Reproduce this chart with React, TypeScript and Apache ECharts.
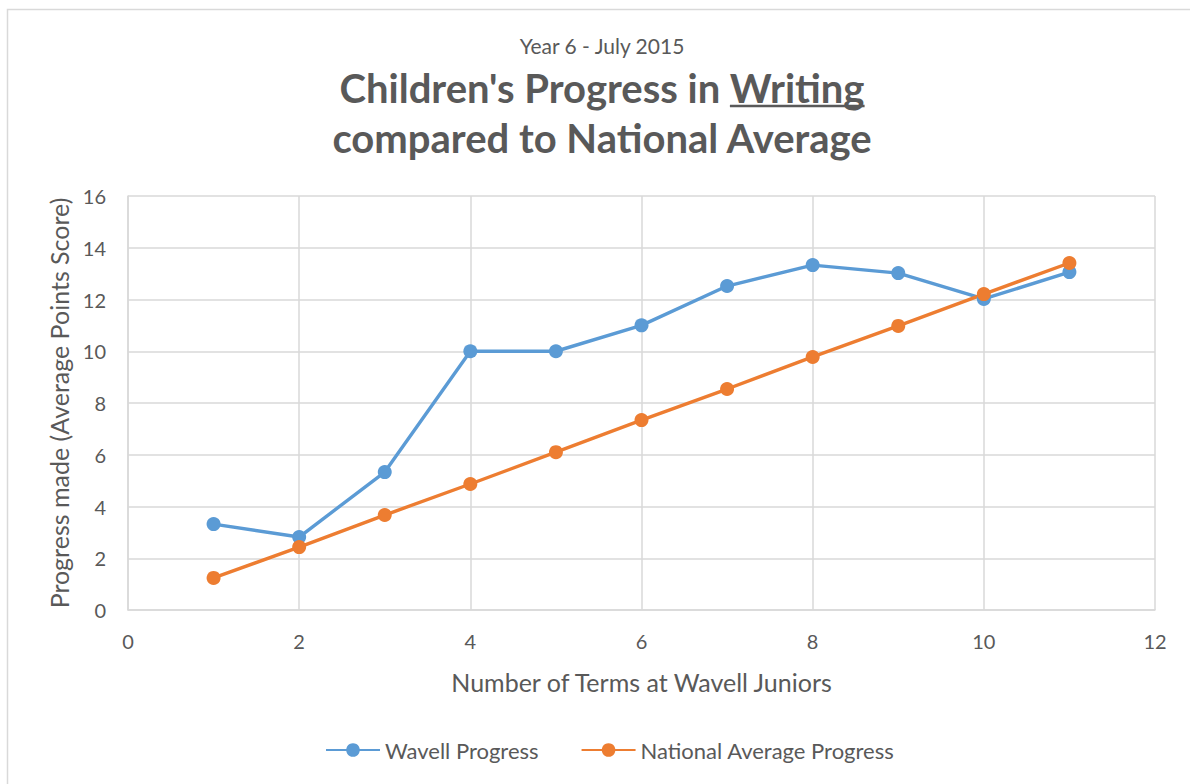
import React, { useEffect, useRef } from "react";
import * as echarts from "echarts";

const terms = [1, 2, 3, 4, 5, 6, 7, 8, 9, 10, 11];
const wavellProgress = [3.32, 2.82, 5.33, 10.0, 10.0, 11.0, 12.52, 13.33, 13.02, 12.02, 13.06];
const nationalProgress = [1.24, 2.43, 3.67, 4.87, 6.1, 7.34, 8.54, 9.78, 10.98, 12.21, 13.41];

const seriesNames = ["Wavell Progress", "National Average Progress"];
const subtitle = "Year 6 - July 2015";
const titleLine1Prefix = "Children's Progress in ";
const titleLine1Underlined = "Writing";
const titleLine2 = "compared to National Average";
const xAxisName = "Number of Terms at Wavell Juniors";
const yAxisName = "Progress made (Average Points Score)";

const FONT = "Lato, 'Open Sans', sans-serif";
const TEXT = "#595959";

function measure(text: string, font: string): number {
  const c = document.createElement("canvas");
  const ctx = c.getContext("2d");
  if (!ctx) return text.length * 20;
  ctx.font = font;
  return ctx.measureText(text).width;
}

export default function App() {
  const ref = useRef<HTMLDivElement>(null);
  useEffect(() => {
    document.body.style.margin = "0";
    if (!ref.current) return;
    const chart = echarts.init(ref.current, undefined, { renderer: "svg" });
    const titleFont = `bold 40px Lato`;
    const centerX = 602;
    const fullW = measure(titleLine1Prefix + titleLine1Underlined, titleFont);
    const uW = measure(titleLine1Underlined, titleFont);
    const uEnd = centerX + fullW / 2;
    const uStart = uEnd - uW;

    chart.setOption({
      animation: false,
      textStyle: { fontFamily: FONT, color: TEXT },
      grid: { left: 128, right: 35, top: 196, bottom: 174 },
      xAxis: {
        type: "value",
        min: 0,
        max: 12,
        interval: 2,
        name: xAxisName,
        nameLocation: "middle",
        nameGap: 59,
        nameTextStyle: { fontSize: 25, color: TEXT, fontFamily: FONT },
        axisLine: { show: true, lineStyle: { color: "#d9d9d9", width: 1.5 } },
        axisTick: { show: false },
        axisLabel: { fontSize: 20, color: TEXT, margin: 21, fontFamily: FONT },
        splitLine: { show: true, lineStyle: { color: "#d9d9d9", width: 1.5 } },
      },
      yAxis: {
        type: "value",
        min: 0,
        max: 16,
        interval: 2,
        name: yAxisName,
        nameLocation: "middle",
        nameGap: 52,
        nameTextStyle: { fontSize: 25, color: TEXT, fontFamily: FONT },
        axisLine: { show: true, lineStyle: { color: "#d9d9d9", width: 1.5 } },
        axisTick: { show: false },
        axisLabel: { fontSize: 20, color: TEXT, margin: 22, fontFamily: FONT },
        splitLine: { show: true, lineStyle: { color: "#d9d9d9", width: 1.5 } },
      },
      legend: {
        bottom: 18,
        left: 320,
        itemWidth: 54,
        itemHeight: 17,
        itemGap: 42,
        textStyle: { fontSize: 22, color: TEXT, fontFamily: FONT },
        data: seriesNames,
      },
      series: [
        {
          name: seriesNames[0],
          type: "line",
          data: terms.map((t, i) => [t, wavellProgress[i]]),
          symbol: "circle",
          symbolSize: 14,
          lineStyle: { color: "#5B9BD5", width: 3.4 },
          itemStyle: { color: "#5B9BD5" },
        },
        {
          name: seriesNames[1],
          type: "line",
          data: terms.map((t, i) => [t, nationalProgress[i]]),
          symbol: "circle",
          symbolSize: 14,
          lineStyle: { color: "#ED7D31", width: 3.4 },
          itemStyle: { color: "#ED7D31" },
        },
      ],
      graphic: [
        {
          type: "rect",
          silent: true,
          shape: { x: 7.5, y: 9.5, width: 1400, height: 1000 },
          style: { fill: "none", stroke: "#d9d9d9", lineWidth: 1.5 },
          z: -10,
        },
        {
          type: "text",
          x: centerX,
          y: 45,
          style: {
            text: subtitle,
            font: `21px ${FONT}`,
            fill: TEXT,
            align: "center",
            verticalAlign: "middle",
          },
        },
        {
          type: "text",
          x: centerX,
          y: 88,
          style: {
            text: titleLine1Prefix + titleLine1Underlined,
            font: titleFont,
            fill: TEXT,
            align: "center",
            verticalAlign: "middle",
          },
        },
        {
          type: "line",
          shape: { x1: uStart, y1: 106, x2: uEnd, y2: 106 },
          style: { stroke: TEXT, lineWidth: 2.5 },
        },
        {
          type: "text",
          x: centerX,
          y: 138,
          style: {
            text: titleLine2,
            font: titleFont,
            fill: TEXT,
            align: "center",
            verticalAlign: "middle",
          },
        },
      ],
    });
    return () => chart.dispose();
  }, []);
  return <div ref={ref} style={{ width: 1190, height: 784 }} />;
}
